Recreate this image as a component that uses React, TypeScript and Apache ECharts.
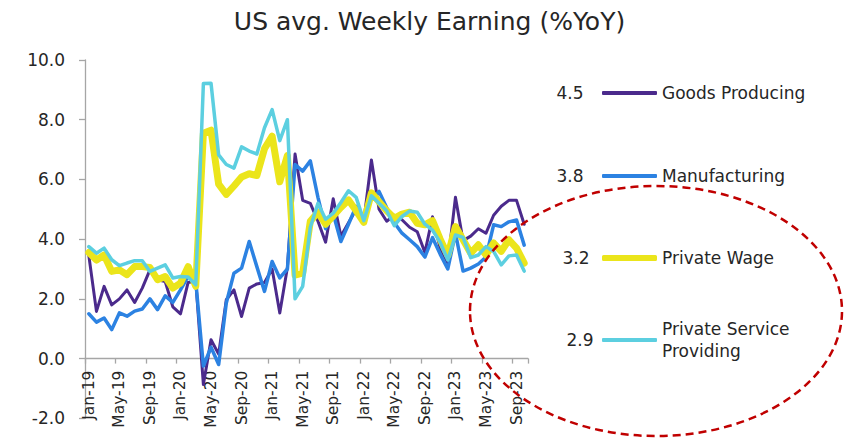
import React, { useEffect, useRef } from "react";
import * as echarts from "echarts";

const categories = [
  "Jan-19", "Feb-19", "Mar-19", "Apr-19", "May-19", "Jun-19", "Jul-19", "Aug-19", "Sep-19", "Oct-19", "Nov-19", "Dec-19",
  "Jan-20", "Feb-20", "Mar-20", "Apr-20", "May-20", "Jun-20", "Jul-20", "Aug-20", "Sep-20", "Oct-20", "Nov-20", "Dec-20",
  "Jan-21", "Feb-21", "Mar-21", "Apr-21", "May-21", "Jun-21", "Jul-21", "Aug-21", "Sep-21", "Oct-21", "Nov-21", "Dec-21",
  "Jan-22", "Feb-22", "Mar-22", "Apr-22", "May-22", "Jun-22", "Jul-22", "Aug-22", "Sep-22", "Oct-22", "Nov-22", "Dec-22",
  "Jan-23", "Feb-23", "Mar-23", "Apr-23", "May-23", "Jun-23", "Jul-23", "Aug-23", "Sep-23", "Oct-23",
];

const goodsProducing = [
  3.45, 1.58, 2.42, 1.8, 2.0, 2.3, 1.88, 2.36, 2.97, 2.64, 2.58, 1.73,
  1.5, 2.55, 2.6, -0.87, 0.63, 0.15, 1.97, 2.3, 1.41, 2.36, 2.5, 2.55,
  3.0, 1.53, 3.05, 6.85, 5.3, 5.2, 4.6, 3.9, 5.35, 4.1, 4.55, 5.0,
  4.6, 6.65, 5.0, 4.6, 4.8, 4.65, 4.4, 4.25, 3.55, 4.75, 3.7, 3.2,
  5.4, 3.95, 4.1, 4.35, 4.2, 4.8, 5.1, 5.3, 5.3, 4.5,
];

const manufacturing = [
  1.5, 1.22, 1.36, 0.97, 1.53, 1.42, 1.59, 1.66, 2.0, 1.64, 2.1, 1.88,
  2.3, 2.75, 2.6, -0.25, 0.38, -0.2, 1.86, 2.86, 3.03, 3.92, 3.08, 2.25,
  3.25, 2.7, 3.0, 6.5, 6.28, 6.62, 5.4, 4.35, 4.85, 3.92, 4.5, 5.1,
  4.75, 5.35, 5.6, 5.05, 4.55, 4.2, 3.98, 3.75, 3.4, 4.05, 3.5, 3.0,
  4.2, 2.93, 3.03, 3.17, 3.4, 4.48, 4.42, 4.58, 4.64, 3.8,
];

const privateWage = [
  3.55, 3.3, 3.47, 2.92, 2.97, 2.81, 3.08, 3.08, 3.05, 2.64, 2.75, 2.36,
  2.53, 3.08, 2.42, 7.55, 7.65, 5.84, 5.5, 5.78, 6.08, 6.19, 6.13, 7.03,
  7.45, 5.92, 6.8, 2.8, 2.86, 4.6, 4.9, 4.5, 4.78, 5.06, 5.31, 4.95,
  4.56, 5.55, 5.25, 4.95, 4.7, 4.84, 4.9, 4.53, 4.48, 4.62, 4.0, 3.45,
  4.42, 3.98, 3.53, 3.81, 3.47, 3.87, 3.59, 3.98, 3.7, 3.2,
];

const privateService = [
  3.75, 3.53, 3.7, 3.31, 3.11, 3.2, 3.28, 3.28, 2.92, 3.03, 3.14, 2.7,
  2.75, 2.73, 2.47, 9.21, 9.22, 6.82, 6.5, 6.38, 7.09, 6.95, 6.85, 7.73,
  8.34, 7.3, 8.0, 2.0, 2.42, 4.4, 5.2, 4.67, 4.87, 5.23, 5.62, 5.4,
  4.62, 5.45, 5.2, 4.95, 4.45, 4.76, 4.94, 4.9, 4.5, 4.3, 3.9, 3.3,
  4.14, 4.06, 3.38, 3.47, 3.75, 3.59, 3.14, 3.44, 3.47, 2.93,
];

const seriesNames = ["Goods Producing", "Manufacturing", "Private Wage", "Private Service Providing"];
const seriesData = [goodsProducing, manufacturing, privateWage, privateService];
const seriesColors = ["#4B2A8C", "#2C82E2", "#EBE51B", "#5CCFE0"];
const seriesWidths = [3, 3.5, 7, 3.5];
const legendIconHeights = [4, 4, 6, 4];

const yMin = -2;
const yMax = 10;
const yInterval = 2;

const FONT = "DejaVu Sans";
const TEXT = "#262626";
const AXIS = "#A6A6A6";

export default function App() {
  const ref = useRef<HTMLDivElement>(null);

  useEffect(() => {
    const chart = echarts.init(ref.current!, null, { renderer: "svg" });

    const gridTop = 60;
    const gridBottom = 22.7;
    const plotHeight = 441 - gridTop - gridBottom;
    // the category axis crosses the value axis at zero
    const zeroOffset = -plotHeight * ((0 - yMin) / (yMax - yMin));

    const legendCenters = [93, 176, 258, 340];
    const valueX = [570, 570, 576, 580];

    const legends = seriesNames.map((name, i) => {
      const twoLine = name === "Private Service Providing";
      return {
        data: [{ name, icon: "roundRect" }],
        left: 602,
        top: twoLine ? legendCenters[i] - 33 : legendCenters[i] - 11,
        padding: 0,
        itemWidth: 55,
        itemHeight: legendIconHeights[i],
        itemGap: 0,
        selectedMode: false,
        formatter: twoLine ? () => "Private Service\nProviding" : undefined,
        textStyle: {
          fontFamily: FONT,
          fontSize: 17,
          color: TEXT,
          lineHeight: 22,
          padding: twoLine ? [22, 0, 0, 0] : 0,
        },
      };
    });

    const valueTexts = seriesData.map((d, i) => ({
      type: "text",
      x: valueX[i],
      y: legendCenters[i],
      silent: true,
      style: {
        text: d[d.length - 1].toFixed(1),
        fontFamily: FONT,
        fontSize: 17,
        fill: TEXT,
        align: "center",
        verticalAlign: "middle",
      },
    }));

    const option: any = {
      animation: false,
      backgroundColor: "#ffffff",
      title: {
        text: "US avg. Weekly Earning (%YoY)",
        left: "center",
        top: 4,
        textStyle: { fontFamily: FONT, fontSize: 25, fontWeight: "normal", color: TEXT },
      },
      grid: {
        left: 85,
        right: 331,
        top: gridTop,
        bottom: gridBottom,
        containLabel: false,
        outerBoundsMode: "none",
      },
      legend: legends,
      xAxis: {
        type: "category",
        data: categories,
        boundaryGap: true,
        position: "bottom",
        offset: zeroOffset,
        axisLine: { onZero: false, lineStyle: { color: AXIS, width: 1.3 } },
        axisTick: { show: true, interval: 3, length: 5, lineStyle: { color: AXIS, width: 1.3 } },
        axisLabel: {
          interval: 3,
          rotate: 90,
          margin: 12,
          fontFamily: FONT,
          fontSize: 15.5,
          color: TEXT,
        },
        splitLine: { show: false },
      },
      yAxis: {
        type: "value",
        min: yMin,
        max: yMax,
        interval: yInterval,
        axisLine: { show: true, onZero: false, lineStyle: { color: AXIS, width: 1.3 } },
        axisTick: { show: true, length: 6, lineStyle: { color: AXIS, width: 1.3 } },
        axisLabel: {
          margin: 20,
          fontFamily: FONT,
          fontSize: 17,
          color: TEXT,
          formatter: (v: number) => v.toFixed(1),
        },
        splitLine: { show: false },
      },
      series: seriesNames.map((name, i) => ({
        name,
        type: "line",
        data: seriesData[i],
        symbol: "none",
        showSymbol: false,
        lineStyle: { color: seriesColors[i], width: seriesWidths[i], join: "round", cap: "round" },
        itemStyle: { color: seriesColors[i] },
        z: 2 + i,
      })),
      graphic: [
        ...valueTexts,
        {
          type: "ellipse",
          silent: true,
          z: 100,
          shape: { cx: 656, cy: 311, rx: 186, ry: 125 },
          style: { fill: null, stroke: "#C00000", lineWidth: 2.5, lineDash: [8, 5] },
        },
      ],
    };

    chart.setOption(option);
    return () => chart.dispose();
  }, []);

  return (
    <div
      ref={ref}
      style={{ position: "fixed", left: 0, top: 0, width: 859, height: 441 }}
    />
  );
}
